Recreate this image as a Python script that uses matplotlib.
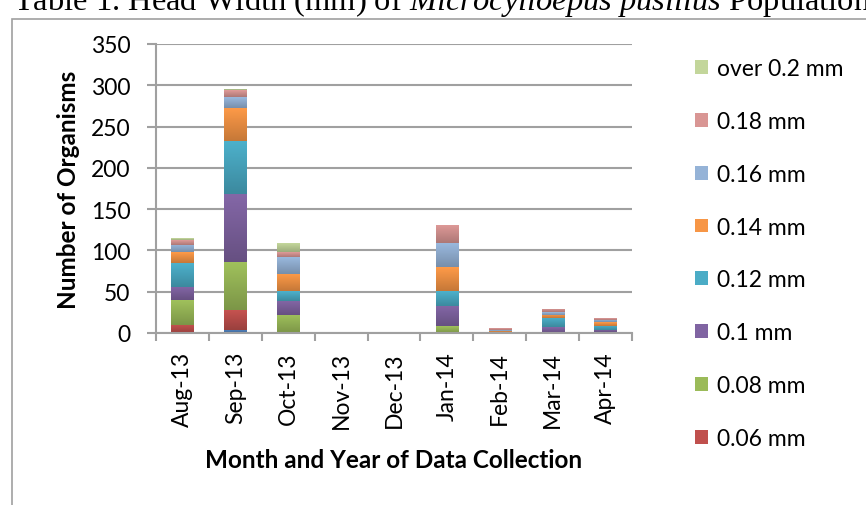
import numpy as np
import matplotlib
matplotlib.use("Agg")
import matplotlib.pyplot as plt
from matplotlib.patches import Rectangle
from matplotlib.colors import to_rgb

plt.rcParams['font.family'] = ['Lato', 'DejaVu Sans']
plt.rcParams['mathtext.fontset'] = 'custom'
plt.rcParams['mathtext.rm'] = 'Liberation Serif'
plt.rcParams['mathtext.it'] = 'Liberation Serif:italic'

# data (number of organisms per head width class)
months = ['Aug-13', 'Sep-13', 'Oct-13', 'Nov-13', 'Dec-13',
          'Jan-14', 'Feb-14', 'Mar-14', 'Apr-14']
w004 = [0, 4, 0, 0, 0, 0, 0, 0, 1]
w006 = [10, 24, 0, 0, 0, 0, 0, 0, 0]
w008 = [30, 58, 22, 0, 0, 8, 0, 0, 0]
w010 = [16, 82, 17, 0, 0, 25, 0, 7, 3]
w012 = [29, 65, 12, 0, 0, 18, 1, 11, 5]
w014 = [13, 40, 21, 0, 0, 29, 2, 4, 4]
w016 = [9, 13, 20, 0, 0, 29, 1, 3, 3]
w018 = [6, 8, 6, 0, 0, 22, 2, 4, 2]
w020 = [2, 2, 11, 0, 0, 0, 0, 0, 0]

series = [w004, w006, w008, w010, w012, w014, w016, w018, w020]
labels = ['0.04 mm', '0.06 mm', '0.08 mm', '0.1 mm', '0.12 mm',
          '0.14 mm', '0.16 mm', '0.18 mm', 'over 0.2 mm']
colors = ['#4F81BD', '#C0504D', '#9BBB59', '#8064A2', '#4BACC6',
          '#F79646', '#95B3D7', '#D99694', '#C3D69B']

grey = '#A0A0A0'
fs = 16.5

fig = plt.figure(figsize=(8.66, 5.06), dpi=100)
ax = fig.add_axes([156/866, 1 - 334/506, 476/866, 289/506])

x = np.arange(len(months))
bottom = np.zeros(len(months))
bars = []
for vals, lab, col in zip(series, labels, colors):
    b = ax.bar(x, vals, 0.42, bottom=bottom, color=col, label=lab, zorder=2)
    bars.append(b)
    bottom += np.array(vals)

# excel style vertical gradient on each segment
for b, col in zip(bars, colors):
    c = np.array(to_rgb(col))
    top = np.clip(c * 1.03, 0, 1)
    bot = c * 0.80
    t = np.linspace(0, 1, 40)[:, None, None]
    img = top * (1 - t) + bot * t
    for r in b:
        h = r.get_height()
        if h <= 0:
            continue
        im = ax.imshow(img, extent=[r.get_x(), r.get_x() + r.get_width(),
                                    r.get_y(), r.get_y() + h],
                       origin='upper', aspect='auto', zorder=2.1,
                       interpolation='bilinear')
        im.set_clip_path(r)

ax.set_xlim(-0.5, len(months) - 0.5)
ax.set_ylim(0, 350)
ax.set_yticks(np.arange(0, 351, 50))
ax.yaxis.grid(True, color=grey, lw=1.5)
ax.set_axisbelow(True)

for s in ['top', 'right']:
    ax.spines[s].set_visible(False)
for s in ['left', 'bottom']:
    ax.spines[s].set_color(grey)
    ax.spines[s].set_linewidth(1.5)

ax.set_xticks(x)
ax.set_xticklabels(months, rotation=90, fontsize=fs)
ax.set_xticks(np.arange(-0.5, len(months), 1), minor=True)
ax.tick_params(axis='x', which='major', length=0, pad=13)
ax.tick_params(axis='x', which='minor', length=6, width=1.5, color=grey)
ax.tick_params(axis='y', length=6.5, width=1.5, color=grey, pad=12,
               labelsize=fs)

ax.set_ylabel('Number of Organisms', fontsize=17.5, fontweight='bold')
ax.yaxis.label.set_va('center')
ax.yaxis.set_label_coords(-0.183, 0.5)
ax.set_xlabel('Month and Year of Data Collection', fontsize=17.5,
              fontweight='bold')
ax.xaxis.label.set_va('center')
ax.xaxis.set_label_coords(0.5, -0.436)

handles = [bars[i] for i in range(8, 0, -1)]
leg_labels = [labels[i] for i in range(8, 0, -1)]
ax.legend(handles, leg_labels, loc='upper left',
          bbox_to_anchor=(695/866, 1 - 59/506), bbox_transform=fig.transFigure,
          frameon=False, fontsize=fs, handlelength=0.55, handleheight=0.55,
          handletextpad=0.4, labelspacing=1.39, borderpad=0, borderaxespad=0)

# chart area border (runs off the right and bottom of the picture)
fig.patches.append(Rectangle((12/866, -0.2), 2, 1.2 - 20/506, fill=False,
                             edgecolor=grey, lw=1.2,
                             transform=fig.transFigure))

fig.text(13/866, 1 - 10/506,
         r'Table 1. Head Width (mm) of $\mathit{Microcylloepus\ pusillus}$ Population',
         family='Liberation Serif', fontsize=23.4, va='baseline', ha='left')

fig.savefig('out.png', dpi=100)
